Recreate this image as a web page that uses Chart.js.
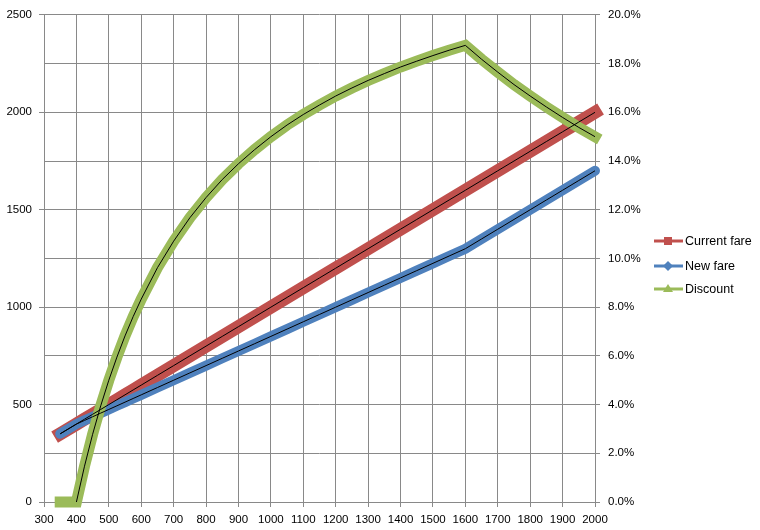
<!DOCTYPE html>
<html>
<head>
<meta charset="utf-8">
<script src="https://cdn.jsdelivr.net/npm/chart.js@4.4.0/dist/chart.umd.min.js"></script>
<style>
  body { margin: 0; background: #fff; }
  #wrap { width: 760px; height: 530px; }
</style>
</head>
<body>
<div id="wrap"><canvas id="fareChart" width="760" height="530"></canvas></div>
<script>
const distance = [350, 400, 425, 450, 475, 500, 525, 550, 575, 600, 650, 700, 750, 800, 850, 900, 950, 1000,
  1050, 1100, 1150, 1200, 1250, 1300, 1350, 1400, 1450, 1500, 1550, 1600,
  1650, 1700, 1750, 1800, 1850, 1900, 1950, 2000];
const currentFare = [350, 400, 425, 450, 475, 500, 525, 550, 575, 600, 650, 700, 750, 800, 850, 900, 950, 1000,
  1050, 1100, 1150, 1200, 1250, 1300, 1350, 1400, 1450, 1500, 1550, 1600,
  1650, 1700, 1750, 1800, 1850, 1900, 1950, 2000];
const newFare = [350, 400, 418.75, 437.5, 456.25, 475, 493.75, 512.5, 531.25, 550, 587.5, 625, 662.5, 700,
  737.5, 775, 812.5, 850, 887.5, 925, 962.5, 1000, 1037.5, 1075, 1112.5, 1150, 1187.5, 1225, 1262.5, 1300,
  1350, 1400, 1450, 1500, 1550, 1600, 1650, 1700];
// discount in %
const discount = [0, 0, 1.47, 2.78, 3.95, 5.0, 5.95, 6.82, 7.61, 8.33, 9.62, 10.71, 11.67, 12.5,
  13.24, 13.89, 14.47, 15.0, 15.48, 15.91, 16.3, 16.67, 17.0, 17.31, 17.59, 17.86, 18.1, 18.33, 18.55, 18.75,
  18.18, 17.65, 17.14, 16.67, 16.22, 15.79, 15.38, 15.0];

const seriesNames = ["Current fare", "New fare", "Discount"];
const xTicks = [300, 400, 500, 600, 700, 800, 900, 1000, 1100, 1200, 1300, 1400, 1500,
  1600, 1700, 1800, 1900, 2000];
const leftTicks = [0, 500, 1000, 1500, 2000, 2500];
const rightTicks = [0, 2, 4, 6, 8, 10, 12, 14, 16, 18, 20];

const RED = "#C0504D";
const BLUE = "#4F81BD";
const GREEN = "#9BBB59";
const GRID = "#898989";
const FONT = "'Liberation Sans', Arial, sans-serif";

function pts(ys, from) {
  from = from || 0;
  return distance.slice(from).map((x, i) => ({ x: x, y: ys[i + from] }));
}

function band(data, color, width, cap, axis, order) {
  return {
    data: data, yAxisID: axis, order: order,
    borderColor: color, backgroundColor: color,
    borderWidth: width, borderCapStyle: cap, borderJoinStyle: "miter",
    pointRadius: 0, pointHoverRadius: 0, fill: false, tension: 0, clip: false,
  };
}

function thin(data, axis) {
  return {
    data: data, yAxisID: axis, order: 0,
    borderColor: "#000", borderWidth: 1,
    pointRadius: 0, pointHoverRadius: 0, fill: false, tension: 0, clip: false,
  };
}

function setTicks(arr) {
  return (scale) => { scale.ticks = arr.map((v) => ({ value: v })); };
}

const legendMarkers = {
  id: "legendMarkers",
  afterDraw(chart) {
    const ctx = chart.ctx;
    const colors = [RED, BLUE, GREEN];
    const rows = [241, 266, 289];
    ctx.save();
    seriesNames.forEach((name, i) => {
      const y = rows[i];
      ctx.strokeStyle = colors[i];
      ctx.fillStyle = colors[i];
      ctx.lineWidth = 3;
      ctx.beginPath();
      ctx.moveTo(654, y);
      ctx.lineTo(683, y);
      ctx.stroke();
      ctx.beginPath();
      if (i === 0) {
        ctx.rect(664, y - 4, 8, 8);
      } else if (i === 1) {
        ctx.moveTo(668, y - 5); ctx.lineTo(673, y); ctx.lineTo(668, y + 5); ctx.lineTo(663, y);
      } else {
        ctx.moveTo(668, y - 5); ctx.lineTo(673, y + 3); ctx.lineTo(663, y + 3);
      }
      ctx.closePath();
      ctx.fill();
      ctx.fillStyle = "#000";
      ctx.font = "12.5px " + FONT;
      ctx.textBaseline = "middle";
      ctx.textAlign = "left";
      ctx.fillText(name, 685, y + 1);
    });
    ctx.restore();
  },
};

const ctx = document.getElementById("fareChart").getContext("2d");
const fareChart = new Chart(ctx, {
  type: "line",
  data: {
    datasets: [
      band(pts(currentFare), RED, 13, "square", "y", 3),
      band(pts(newFare), BLUE, 10, "round", "y", 2),
      band(pts(discount), GREEN, 11, "square", "y1", 1),
      thin(pts(currentFare), "y"),
      thin(pts(newFare), "y"),
      thin(pts(discount, 1), "y1"),
    ],
  },
  options: {
    responsive: false,
    animation: false,
    events: [],
    layout: { padding: { left: 0, right: 115, top: 9, bottom: 0 } },
    plugins: {
      legend: { display: false },
      tooltip: { enabled: false },
    },
    scales: {
      x: {
        type: "linear",
        min: 300,
        max: 2000,
        afterBuildTicks: setTicks(xTicks),
        afterFit: (s) => { s.height = 28; },
        grid: { color: GRID, tickLength: 5 },
        border: { color: GRID },
        ticks: {
          autoSkip: false, maxRotation: 0, padding: 6,
          color: "#000", font: { family: FONT, size: 11.5 },
          callback: (v) => String(v),
        },
      },
      y: {
        position: "left",
        min: 0,
        max: 2500,
        afterBuildTicks: setTicks(leftTicks),
        afterFit: (s) => { s.width = 44; },
        grid: { drawOnChartArea: false, color: GRID, tickLength: 5 },
        border: { color: GRID },
        ticks: {
          padding: 7, color: "#000", font: { family: FONT, size: 11.5 },
          callback: (v) => String(v),
        },
      },
      y1: {
        position: "right",
        min: 0,
        max: 20,
        afterBuildTicks: setTicks(rightTicks),
        afterFit: (s) => { s.width = 50; },
        grid: { color: GRID, tickLength: 5 },
        border: { color: GRID },
        ticks: {
          padding: 8, color: "#000", font: { family: FONT, size: 11.5 },
          callback: (v) => v.toFixed(1) + "%",
        },
      },
    },
  },
  plugins: [legendMarkers],
});
</script>
</body>
</html>
